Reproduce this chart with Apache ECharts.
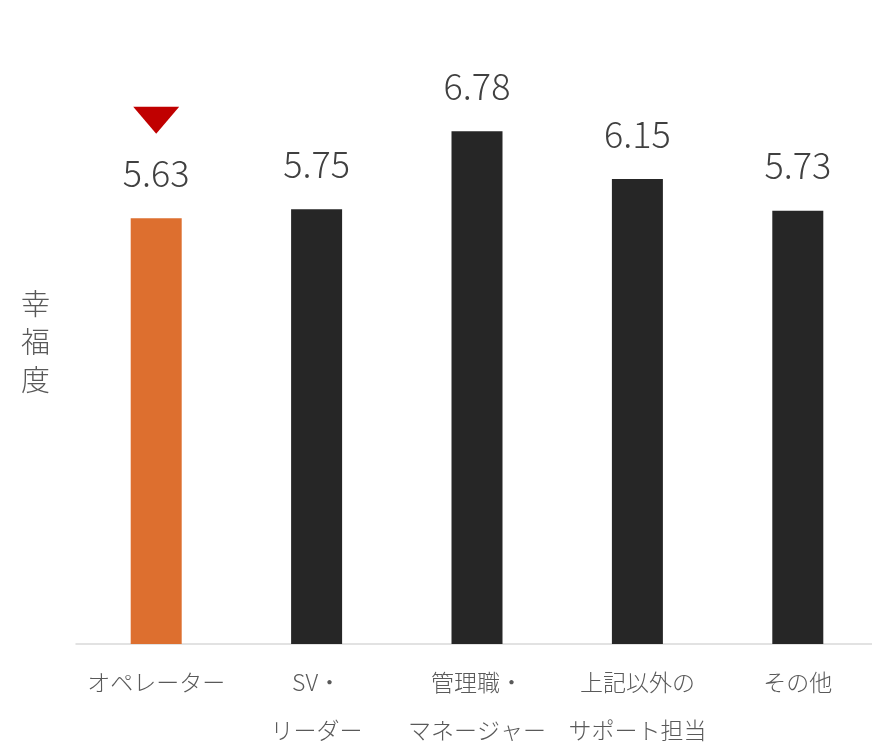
<!DOCTYPE html>
<html>
<head>
<meta charset="utf-8">
<script src="https://cdn.jsdelivr.net/npm/echarts@6/dist/echarts.min.js"></script>
<style>
  html, body { margin: 0; padding: 0; background: #fff; }
  #myChart { width: 872px; height: 742px; }
</style>
</head>
<body>
<div id="myChart"></div>
<script>
// 職種ごとの幸福度
const categories = ['オペレーター', 'SV・\nリーダー', '管理職・\nマネージャー', '上記以外の\nサポート担当', 'その他'];
const scores = [5.63, 5.75, 6.78, 6.15, 5.73];

const myChart = echarts.init(document.getElementById('myChart'));
myChart.setOption({
  animation: false,
  textStyle: { fontFamily: '"Noto Sans CJK JP", sans-serif' },
  grid: { left: 76, right: -6, top: 39, bottom: 98, outerBoundsMode: 'none', containLabel: false },
  xAxis: {
    type: 'category',
    data: categories,
    axisLine: { lineStyle: { color: '#D9D9D9', width: 1.5 } },
    axisTick: { show: false },
    axisLabel: {
      color: '#595959',
      fontSize: 23,
      fontWeight: 300,
      lineHeight: 48,
      margin: 14,
      interval: 0
    }
  },
  yAxis: {
    type: 'value',
    min: 0,
    max: 8,
    name: '幸\n福\n度',
    nameLocation: 'middle',
    nameRotate: 0,
    nameGap: 26,
    nameTextStyle: { color: '#595959', fontSize: 29, fontWeight: 300, lineHeight: 38 },
    axisLine: { show: false },
    axisTick: { show: false },
    axisLabel: { show: false },
    splitLine: { show: false }
  },
  series: [
    {
      type: 'bar',
      data: scores,
      barWidth: 51,
      itemStyle: {
        // 先頭（オペレーター）だけ強調色
        color: function (p) {
          return p.dataIndex === 0 ? '#DD6F2F' : '#262626';
        }
      },
      label: {
        show: true,
        position: 'top',
        distance: 27,
        color: '#404040',
        fontSize: 36,
        fontWeight: 300,
        formatter: function (p) { return p.value.toFixed(2); }
      },
      markPoint: {
        silent: true,
        label: { show: false },
        data: [
          {
            coord: [0, scores[0]],
            symbol: 'triangle',
            symbolRotate: 180,
            symbolSize: [46, 27],
            symbolOffset: [0, -98],
            itemStyle: { color: '#C00000' }
          }
        ]
      }
    }
  ]
});
</script>
</body>
</html>
